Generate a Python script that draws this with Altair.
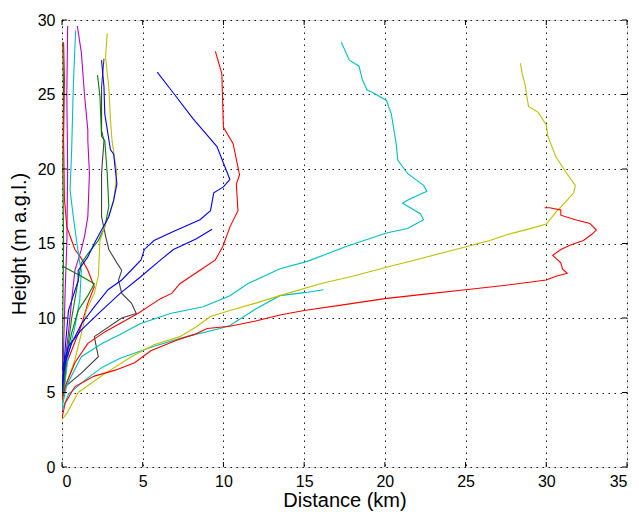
import altair as alt
import pandas as pd

# ---- trajectories (distance km, height) ----
red_big_x = [0.0, 0.2, 0.8, 2.0, 3.3, 4.5, 5.5, 7.1, 8.2, 9.0, 10.4, 12.0, 13.5, 15.0, 17.5, 20.0, 22.5, 25.0, 27.5, 30.0, 30.6, 31.3, 31.0, 30.9, 30.4, 30.9, 31.5, 32.3, 32.8, 33.1, 32.7, 31.8, 30.9, 30.9, 30.2, 29.9]
red_big_y = [3.3, 4.3, 5.4, 6.1, 6.5, 7.0, 7.8, 8.5, 8.9, 9.3, 9.45, 9.8, 10.2, 10.5, 10.9, 11.3, 11.6, 11.9, 12.2, 12.55, 12.8, 13.0, 13.3, 13.7, 14.2, 14.6, 14.9, 15.2, 15.6, 15.9, 16.35, 16.6, 16.9, 17.25, 17.4, 17.4]

yellow_big_x = [0.0, 0.3, 1.0, 2.7, 4.3, 5.7, 7.3, 8.3, 9.2, 10.4, 12.0, 13.5, 16.0, 18.0, 20.1, 22.6, 25.1, 26.5, 27.6, 29.0, 30.0, 30.6, 31.2, 31.7, 31.8, 31.4, 30.6, 30.1, 30.0, 29.5, 28.9, 28.8, 28.7, 28.5, 28.4]
yellow_big_y = [3.2, 3.6, 5.0, 6.3, 7.4, 8.2, 8.75, 9.4, 10.1, 10.5, 11.0, 11.5, 12.3, 12.8, 13.4, 14.1, 14.8, 15.2, 15.6, 16.0, 16.3, 17.1, 17.8, 18.4, 18.9, 19.5, 20.8, 22.2, 22.95, 23.8, 24.2, 24.85, 25.6, 26.4, 27.1]

cyan_long_x = [0.0, 0.3, 1.2, 2.5, 3.6, 4.8, 6.7, 8.75, 10.4, 11.5, 13.5, 15.2, 17.6, 20.1, 21.4, 22.4, 22.2, 21.1, 21.4, 22.6, 22.4, 21.4, 20.8, 20.7, 20.4, 20.1, 19.3, 18.9, 18.6, 18.4, 17.8, 17.3]
cyan_long_y = [4.0, 5.5, 7.4, 8.3, 8.9, 9.6, 10.3, 10.75, 11.5, 12.3, 13.3, 13.8, 14.8, 15.7, 16.0, 16.6, 17.0, 17.7, 17.9, 18.5, 18.9, 19.7, 20.6, 21.7, 23.7, 24.6, 25.1, 25.3, 26.0, 26.9, 27.3, 28.5]

cyan_short_x = [0.0, 0.4, 1.5, 2.5, 3.6, 5.7, 7.7, 9.8, 10.4, 12.0, 13.5, 15.0, 16.2]
cyan_short_y = [3.8, 4.9, 5.9, 6.7, 7.3, 8.1, 8.75, 9.3, 9.5, 10.6, 11.5, 11.7, 11.9]

red_mid_x = [0.0, 0.2, 0.8, 1.6, 2.7, 4.7, 6.1, 6.8, 7.3, 8.55, 9.5, 9.96, 10.4, 10.9, 10.8, 11.0, 10.6, 10.0, 9.9, 9.5]
red_mid_y = [4.5, 5.4, 7.0, 8.3, 9.1, 10.3, 11.3, 11.65, 12.3, 13.2, 13.9, 14.8, 16.1, 17.2, 19.0, 19.6, 21.7, 22.8, 26.4, 27.9]

blue_upper_x = [0.0, 0.2, 0.6, 1.2, 2.0, 2.85, 3.7, 4.9, 5.1, 5.7, 6.9, 8.55, 9.2, 9.4, 10.0, 10.4, 10.0, 9.6, 8.1, 6.9, 5.9]
blue_upper_y = [5.5, 7.0, 8.3, 9.6, 10.75, 11.9, 12.55, 13.9, 14.6, 15.2, 15.8, 16.6, 17.2, 18.4, 18.8, 19.3, 20.4, 21.5, 23.4, 25.1, 26.5]

blue_lower_x = [0.0, 0.4, 1.2, 2.25, 3.6, 4.8, 6.0, 6.9, 8.3, 9.3]
blue_lower_y = [6.5, 8.1, 9.2, 10.3, 11.65, 12.7, 13.8, 14.6, 15.3, 15.95]

magenta_a_x = [0.0, 0.2, 0.4, 0.6, 0.8, 1.2, 1.4, 1.6, 1.7, 1.6, 1.6, 1.4, 1.2, 0.95]
magenta_a_y = [4.0, 7.2, 9.0, 11.2, 13.2, 14.6, 15.5, 16.8, 19.7, 21.9, 22.6, 24.9, 27.8, 29.6]

cyan_a_x = [0.0, 0.4, 0.8, 1.1, 1.2, 1.1, 0.9, 0.7, 0.5, 0.6, 0.7, 0.8, 0.85]
cyan_a_y = [4.0, 7.6, 9.4, 11.2, 13.2, 13.7, 15.2, 16.8, 18.6, 21.3, 25.5, 28.2, 29.3]

magenta_b_x = [0.0, 0.1, 0.2, 0.3, 0.35, 0.3, 0.35]
magenta_b_y = [3.8, 8.0, 12.0, 15.0, 20.0, 25.0, 29.6]

red_b_x = [0.0, 0.3, 1.2, 1.6, 2.0, 1.6, 1.2, 0.8, 0.6, 0.3, 0.15, 0.1, 0.15, 0.1]
red_b_y = [4.0, 7.0, 9.5, 11.0, 12.1, 13.2, 14.0, 14.6, 15.2, 16.1, 18.0, 22.0, 26.0, 28.5]

yellow_a_x = [0.0, 0.2, 0.8, 1.3, 1.5, 2.0, 2.25, 2.35, 2.8, 3.2, 3.4, 3.1, 3.0, 2.9, 2.7, 2.8]
yellow_a_y = [4.0, 5.4, 7.2, 9.4, 10.5, 11.65, 12.8, 15.2, 16.6, 17.9, 19.7, 21.9, 23.3, 25.5, 27.5, 29.1]

blue_a_x = [0.0, 0.2, 0.4, 1.0, 1.0, 1.6, 2.0, 2.45, 2.9, 3.2, 3.4, 3.2, 3.0, 2.65, 2.6, 2.45]
blue_a_y = [5.0, 8.0, 10.5, 12.5, 13.2, 14.1, 15.0, 15.9, 16.8, 17.9, 19.0, 21.0, 21.3, 23.7, 25.5, 27.3]

black_a_x = [0.0, 0.2, 1.2, 2.25, 2.0, 3.7, 4.6, 4.3, 3.7, 3.5, 3.7, 3.4, 2.9, 2.7, 2.45, 2.45, 2.6, 2.45, 2.45, 2.6]
black_a_y = [4.2, 5.4, 6.3, 7.4, 8.75, 10.0, 10.3, 11.0, 11.65, 12.55, 13.2, 13.7, 14.6, 15.5, 16.8, 19.7, 21.9, 22.6, 25.5, 27.4]

green_a_x = [0.0, 0.3, 0.6, 1.0, 1.2, 1.6, 2.25, 2.65, 2.9, 2.8, 2.65, 2.45, 2.35, 2.2]
green_a_y = [4.5, 7.5, 10.0, 12.5, 13.7, 14.3, 15.2, 16.1, 17.5, 19.7, 21.9, 22.2, 24.9, 26.3]

green_b_x = [0.0, 0.2, 0.6, 1.0, 1.6, 2.0, 1.2, 0.5, 0.0]
green_b_y = [5.0, 7.0, 9.0, 10.5, 11.5, 12.3, 12.8, 13.2, 13.5]

green_c_x = [0.0, 0.05, 0.1, 0.05, 0.1, 0.05]
green_c_y = [4.0, 10.0, 15.0, 20.0, 25.0, 28.5]

x_ticks = [0, 5, 10, 15, 20, 25, 30, 35]
y_ticks = [0, 5, 10, 15, 20, 25, 30]

BLUE, GREEN, RED, CYAN, MAG, YEL, BLK = "#0000ff", "#008000", "#ff0000", "#00bfbf", "#bf00bf", "#bfbf00", "#404040"

series = [
    ("green_c", GREEN, green_c_x, green_c_y),
    ("magenta_b", MAG, magenta_b_x, magenta_b_y),
    ("red_b", RED, red_b_x, red_b_y),
    ("magenta_a", MAG, magenta_a_x, magenta_a_y),
    ("cyan_a", CYAN, cyan_a_x, cyan_a_y),
    ("black_a", BLK, black_a_x, black_a_y),
    ("green_a", GREEN, green_a_x, green_a_y),
    ("green_b", GREEN, green_b_x, green_b_y),
    ("yellow_a", YEL, yellow_a_x, yellow_a_y),
    ("blue_a", BLUE, blue_a_x, blue_a_y),
    ("blue_lower", BLUE, blue_lower_x, blue_lower_y),
    ("blue_upper", BLUE, blue_upper_x, blue_upper_y),
    ("red_mid", RED, red_mid_x, red_mid_y),
    ("cyan_short", CYAN, cyan_short_x, cyan_short_y),
    ("cyan_long", CYAN, cyan_long_x, cyan_long_y),
    ("yellow_big", YEL, yellow_big_x, yellow_big_y),
    ("red_big", RED, red_big_x, red_big_y),
]

rows = []
for k, (name, col, xs, ys) in enumerate(series):
    for i, (xv, yv) in enumerate(zip(xs, ys)):
        rows.append({"id": f"{k:02d}_{name}", "color": col, "i": i, "x": xv, "y": yv})
df = pd.DataFrame(rows)

W, H = 565, 447
xs_scale = alt.Scale(domain=[0, 35], nice=False, zero=False)
ys_scale = alt.Scale(domain=[0, 30], nice=False, zero=False)

LFONT = "Liberation Sans Narrow, Liberation Sans"
TFONT = "Liberation Sans"

common = dict(grid=True, gridDash=[1.5, 4.5], gridColor="#000000", gridOpacity=0.9,
              tickSize=0, domain=False, labelFontSize=16, titleFontSize=20,
              titleFontWeight="normal", labelColor="#000", titleColor="#000",
              labelFont=LFONT, titleFont=TFONT)

lines = alt.Chart(df).mark_line(strokeWidth=1.1, clip=True).encode(
    x=alt.X("x:Q", scale=xs_scale,
            axis=alt.Axis(values=x_ticks, title="Distance (km)", labelPadding=6,
                          titlePadding=1, **common)),
    y=alt.Y("y:Q", scale=ys_scale,
            axis=alt.Axis(values=y_ticks, title="Height (m a.g.l.)", labelPadding=7,
                          titlePadding=8, **common)),
    detail="id:N",
    order="i:Q",
    color=alt.Color("color:N", scale=None),
)

# inward ticks (MATLAB style), derived from tick lists
xt = pd.DataFrame({"t": x_ticks})
yt = pd.DataFrame({"t": y_ticks})
bx = alt.Chart(xt).mark_rule(color="#000", strokeWidth=1).encode(
    x=alt.X("t:Q", scale=xs_scale), y=alt.value(H), y2=alt.value(H - 5))
tx = alt.Chart(xt).mark_rule(color="#000", strokeWidth=1).encode(
    x=alt.X("t:Q", scale=xs_scale), y=alt.value(0), y2=alt.value(5))
ly = alt.Chart(yt).mark_rule(color="#000", strokeWidth=1).encode(
    y=alt.Y("t:Q", scale=ys_scale), x=alt.value(0), x2=alt.value(5))
ry = alt.Chart(yt).mark_rule(color="#000", strokeWidth=1).encode(
    y=alt.Y("t:Q", scale=ys_scale), x=alt.value(W), x2=alt.value(W - 5))

chart = alt.layer(lines, bx, tx, ly, ry).properties(
    width=W, height=H,
    autosize=alt.AutoSizeParams(type="none"),
    padding={"left": 62, "top": 20, "right": 12, "bottom": 47},
).configure_view(stroke="#000000", strokeWidth=1).configure(background="white")

chart.save("out.html", embed_options={"renderer": "svg", "actions": False})
